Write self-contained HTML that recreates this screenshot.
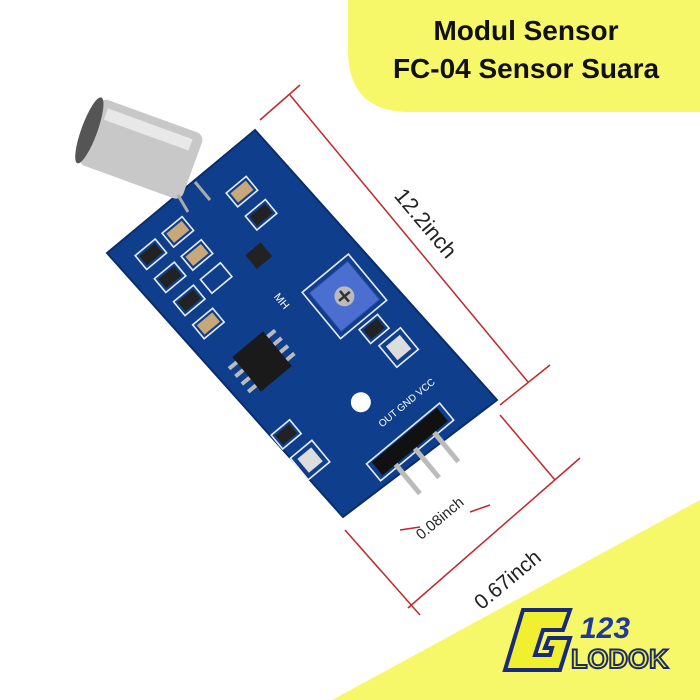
<!DOCTYPE html>
<html><head><meta charset="utf-8"><style>
html,body{margin:0;padding:0;background:#fff;}
svg{display:block;}
</style></head><body>
<svg width="700" height="700" viewBox="0 0 700 700" xmlns="http://www.w3.org/2000/svg">
<rect width="700" height="700" fill="#fff"/>
<path d="M348 0 H700 V112 H410 Q348 112 348 50 Z" fill="#f7f76a"/>
<text x="526" y="40" font-family="Liberation Sans, sans-serif" font-weight="bold" font-size="28" text-anchor="middle" fill="#111">Modul Sensor</text>
<text x="526" y="78" font-family="Liberation Sans, sans-serif" font-weight="bold" font-size="28" text-anchor="middle" fill="#111">FC-04 Sensor Suara</text>
<polygon points="700,500 700,700 332,700" fill="#f7f76a"/>
<g transform="translate(505,610)">
<polygon points="20,0 65,0 58,20 38,20 30,45 45,45 47,38 40,38 44,28 65,28 55,60 0,60 18,0" fill="#f0f030" stroke="#1a2a7a" stroke-width="4"/>
<text x="75" y="28" font-family="Liberation Sans, sans-serif" font-weight="bold" font-style="italic" font-size="30" fill="#1f3a9a">123</text>
<text x="66" y="58" font-family="Liberation Sans, sans-serif" font-weight="bold" font-size="27" fill="#f0f030" stroke="#1a2a7a" stroke-width="2">LODOK</text>
</g>
<g stroke="#c0282c" stroke-width="1.5" fill="none">
<line x1="290" y1="95" x2="528" y2="382"/>
<line x1="260" y1="120" x2="300" y2="85"/>
<line x1="500" y1="405" x2="550" y2="365"/>
<line x1="408" y1="608" x2="580" y2="458"/>
<line x1="345" y1="530" x2="420" y2="615"/>
<line x1="555" y1="480" x2="500" y2="415"/>
<line x1="400" y1="530" x2="420" y2="527"/>
<line x1="470" y1="512" x2="490" y2="505"/>
</g>
<text transform="translate(420,228) rotate(50)" font-family="Liberation Sans, sans-serif" font-size="22" text-anchor="middle" fill="#222">12.2inch</text>
<text transform="translate(512,585) rotate(-40)" font-family="Liberation Sans, sans-serif" font-size="21" text-anchor="middle" fill="#222">0.67inch</text>
<text transform="translate(443,522) rotate(-40)" font-family="Liberation Sans, sans-serif" font-size="15" text-anchor="middle" fill="#222">0.08inch</text>
<polygon points="107,253 255,130 497,400 343,517" fill="#0f3f8c" stroke="#0a2d6a" stroke-width="2"/>
<g transform="translate(107,253) rotate(-39.7)">
  <g fill="none" stroke="#e8eef8" stroke-width="1.6">
    <rect x="20" y="20" width="26" height="18"/><rect x="55" y="20" width="26" height="18"/>
    <rect x="20" y="50" width="26" height="18"/><rect x="55" y="50" width="26" height="18"/>
    <rect x="20" y="80" width="26" height="18"/><rect x="55" y="80" width="26" height="18"/>
    <rect x="130" y="30" width="26" height="18"/><rect x="130" y="60" width="26" height="18"/>
    <rect x="20" y="110" width="26" height="18"/>
    <rect x="125" y="155" width="60" height="60"/>
    <rect x="145" y="220" width="24" height="18"/><rect x="150" y="245" width="28" height="28"/>
    <rect x="10" y="245" width="24" height="18"/><rect x="10" y="275" width="28" height="28"/>
    <rect x="65" y="328" width="95" height="22"/>
  </g>
  <g fill="#c8a878"><rect x="58" y="23" width="20" height="12"/><rect x="58" y="53" width="20" height="12"/><rect x="23" y="113" width="20" height="12"/><rect x="133" y="33" width="20" height="12"/></g>
  <g fill="#222"><rect x="23" y="23" width="20" height="12"/><rect x="23" y="53" width="20" height="12"/><rect x="23" y="83" width="20" height="12"/><rect x="133" y="63" width="20" height="12"/><rect x="105" y="90" width="20" height="18"/><rect x="148" y="223" width="18" height="12"/><rect x="13" y="248" width="18" height="12"/></g>
  <rect x="30" y="160" width="40" height="45" fill="#1a1a1a"/>
  <g fill="#bbb"><rect x="20" y="165" width="10" height="4"/><rect x="20" y="175" width="10" height="4"/><rect x="20" y="185" width="10" height="4"/><rect x="20" y="195" width="10" height="4"/><rect x="70" y="165" width="10" height="4"/><rect x="70" y="175" width="10" height="4"/><rect x="70" y="185" width="10" height="4"/><rect x="70" y="195" width="10" height="4"/></g>
  <rect x="130" y="160" width="50" height="50" fill="#4a6fd0" stroke="#2a4aa0"/>
  <circle cx="155" cy="185" r="10" fill="#bbb"/><path d="M148 185h14M155 178v14" stroke="#333" stroke-width="2.5"/>
  <circle cx="100" cy="277" r="10" fill="#fff"/>
  <rect x="155" y="250" width="18" height="18" fill="#ddd"/><rect x="15" y="280" width="18" height="18" fill="#ddd"/>
  <text x="100" y="310" font-family="Liberation Sans, sans-serif" font-size="10" fill="#fff">OUT GND VCC</text>
  <text x="100" y="140" font-family="Liberation Sans, sans-serif" font-size="11" fill="#fff" transform="rotate(90 100 140)">MH</text>
  <rect x="70" y="330" width="85" height="17" fill="#111"/>
  <g stroke="#bbb" stroke-width="5"><line x1="87" y1="347" x2="87" y2="385"/><line x1="112" y1="347" x2="112" y2="385"/><line x1="137" y1="347" x2="137" y2="385"/></g>
</g>
<g transform="translate(140,152) rotate(20)">
  <rect x="-55" y="-38" width="110" height="70" rx="8" fill="#c8c8c8"/>
  <ellipse cx="-55" cy="-3" rx="8" ry="35" fill="#555"/>
  <rect x="-45" y="-30" width="90" height="12" fill="#e8e8e8"/>
</g>
<g stroke="#aaa" stroke-width="3"><line x1="195" y1="182" x2="210" y2="200"/><line x1="178" y1="195" x2="188" y2="212"/></g>
</svg>
</body></html>
